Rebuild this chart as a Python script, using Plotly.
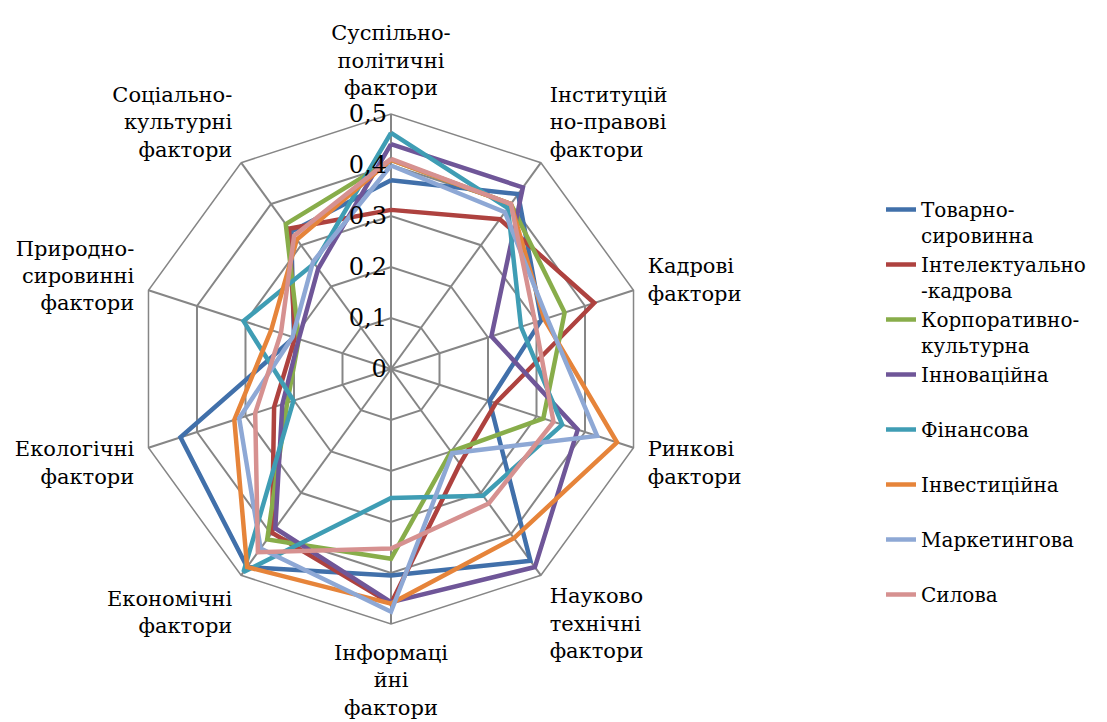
import plotly.graph_objects as go

categories = [
    "Суспільно-<br>політичні<br>фактори",
    "Інституцій<br>но-правові<br>фактори",
    "Кадрові<br>фактори",
    "Ринкові<br>фактори",
    "Науково<br>технічні<br>фактори",
    "Інформаці<br>йні<br>фактори",
    "Економічні<br>фактори",
    "Екологічні<br>фактори",
    "Природно-<br>сировинні<br>фактори",
    "Соціально-<br>культурні<br>фактори",
]

series_names = [
    "Товарно-<br>сировинна",
    "Інтелектуально<br>-кадрова",
    "Корпоративно-<br>культурна",
    "Інноваційна<br> ",
    "Фінансова<br> ",
    "Інвестиційна<br> ",
    "Маркетингова<br> ",
    "Силова<br> ",
]

tovarno = [0.370, 0.424, 0.310, 0.203, 0.465, 0.405, 0.480, 0.434, 0.200, 0.333]
intelekt = [0.312, 0.363, 0.419, 0.216, 0.230, 0.460, 0.397, 0.241, 0.198, 0.340]
korporat = [0.410, 0.400, 0.358, 0.314, 0.200, 0.372, 0.413, 0.214, 0.190, 0.351]
innovats = [0.441, 0.440, 0.207, 0.385, 0.480, 0.457, 0.386, 0.224, 0.190, 0.243]
finans = [0.463, 0.390, 0.268, 0.353, 0.307, 0.253, 0.492, 0.201, 0.304, 0.256]
invest = [0.410, 0.400, 0.316, 0.466, 0.410, 0.460, 0.480, 0.323, 0.247, 0.314]
marketing = [0.399, 0.380, 0.322, 0.425, 0.204, 0.476, 0.435, 0.313, 0.203, 0.260]
sylova = [0.412, 0.400, 0.297, 0.335, 0.326, 0.352, 0.444, 0.280, 0.227, 0.323]

all_values = [tovarno, intelekt, korporat, innovats, finans, invest, marketing, sylova]
colors = ["#4170AA", "#AE423F", "#88AD4A", "#6F5698", "#3F9DB4", "#E6843A", "#8EA8D5", "#D69190"]

radial_ticks = [0, 0.1, 0.2, 0.3, 0.4, 0.5]
radial_ticktext = ["0", "0,1", "0,2", "0,3", "0,4", "0,5"]

FONT = "DejaVu Serif"

fig = go.Figure()
for name, vals, col in zip(series_names, all_values, colors):
    fig.add_trace(go.Scatterpolar(
        r=vals + vals[:1],
        theta=categories + categories[:1],
        mode="lines",
        name=name,
        line=dict(color=col, width=4.5),
    ))

W, H = 1107, 722
cx, cy, R = 383, 361, 255
fig.update_layout(
    width=W, height=H,
    margin=dict(l=0, r=0, t=0, b=0),
    paper_bgcolor="white",
    font=dict(family=FONT, size=21, color="black"),
    polar=dict(
        domain=dict(x=[(cx - R) / W, (cx + R) / W], y=[(H - cy - R) / H, (H - cy + R) / H]),
        bgcolor="white",
        gridshape="linear",
        angularaxis=dict(
            rotation=90, direction="clockwise",
            showline=True, linecolor="#868686", linewidth=1.5,
            gridcolor="#868686", gridwidth=1.5,
            ticks="outside", ticklen=10, tickcolor="rgba(0,0,0,0)",
            tickfont=dict(family=FONT, size=21),
        ),
        radialaxis=dict(
            range=[0, 0.5], tickvals=radial_ticks, ticktext=radial_ticktext,
            angle=90, side="counterclockwise", showline=False, tickangle=90,
            gridcolor="#868686", gridwidth=1.5, ticks="",
            tickfont=dict(family=FONT, size=24),
        ),
    ),
    legend=dict(
        x=873 / W, y=1 - 182 / H, xanchor="left", yanchor="top",
        font=dict(family=FONT, size=20), valign="top",
        bgcolor="rgba(0,0,0,0)", tracegroupgap=0,
    ),
)

fig.write_html("out.html")
